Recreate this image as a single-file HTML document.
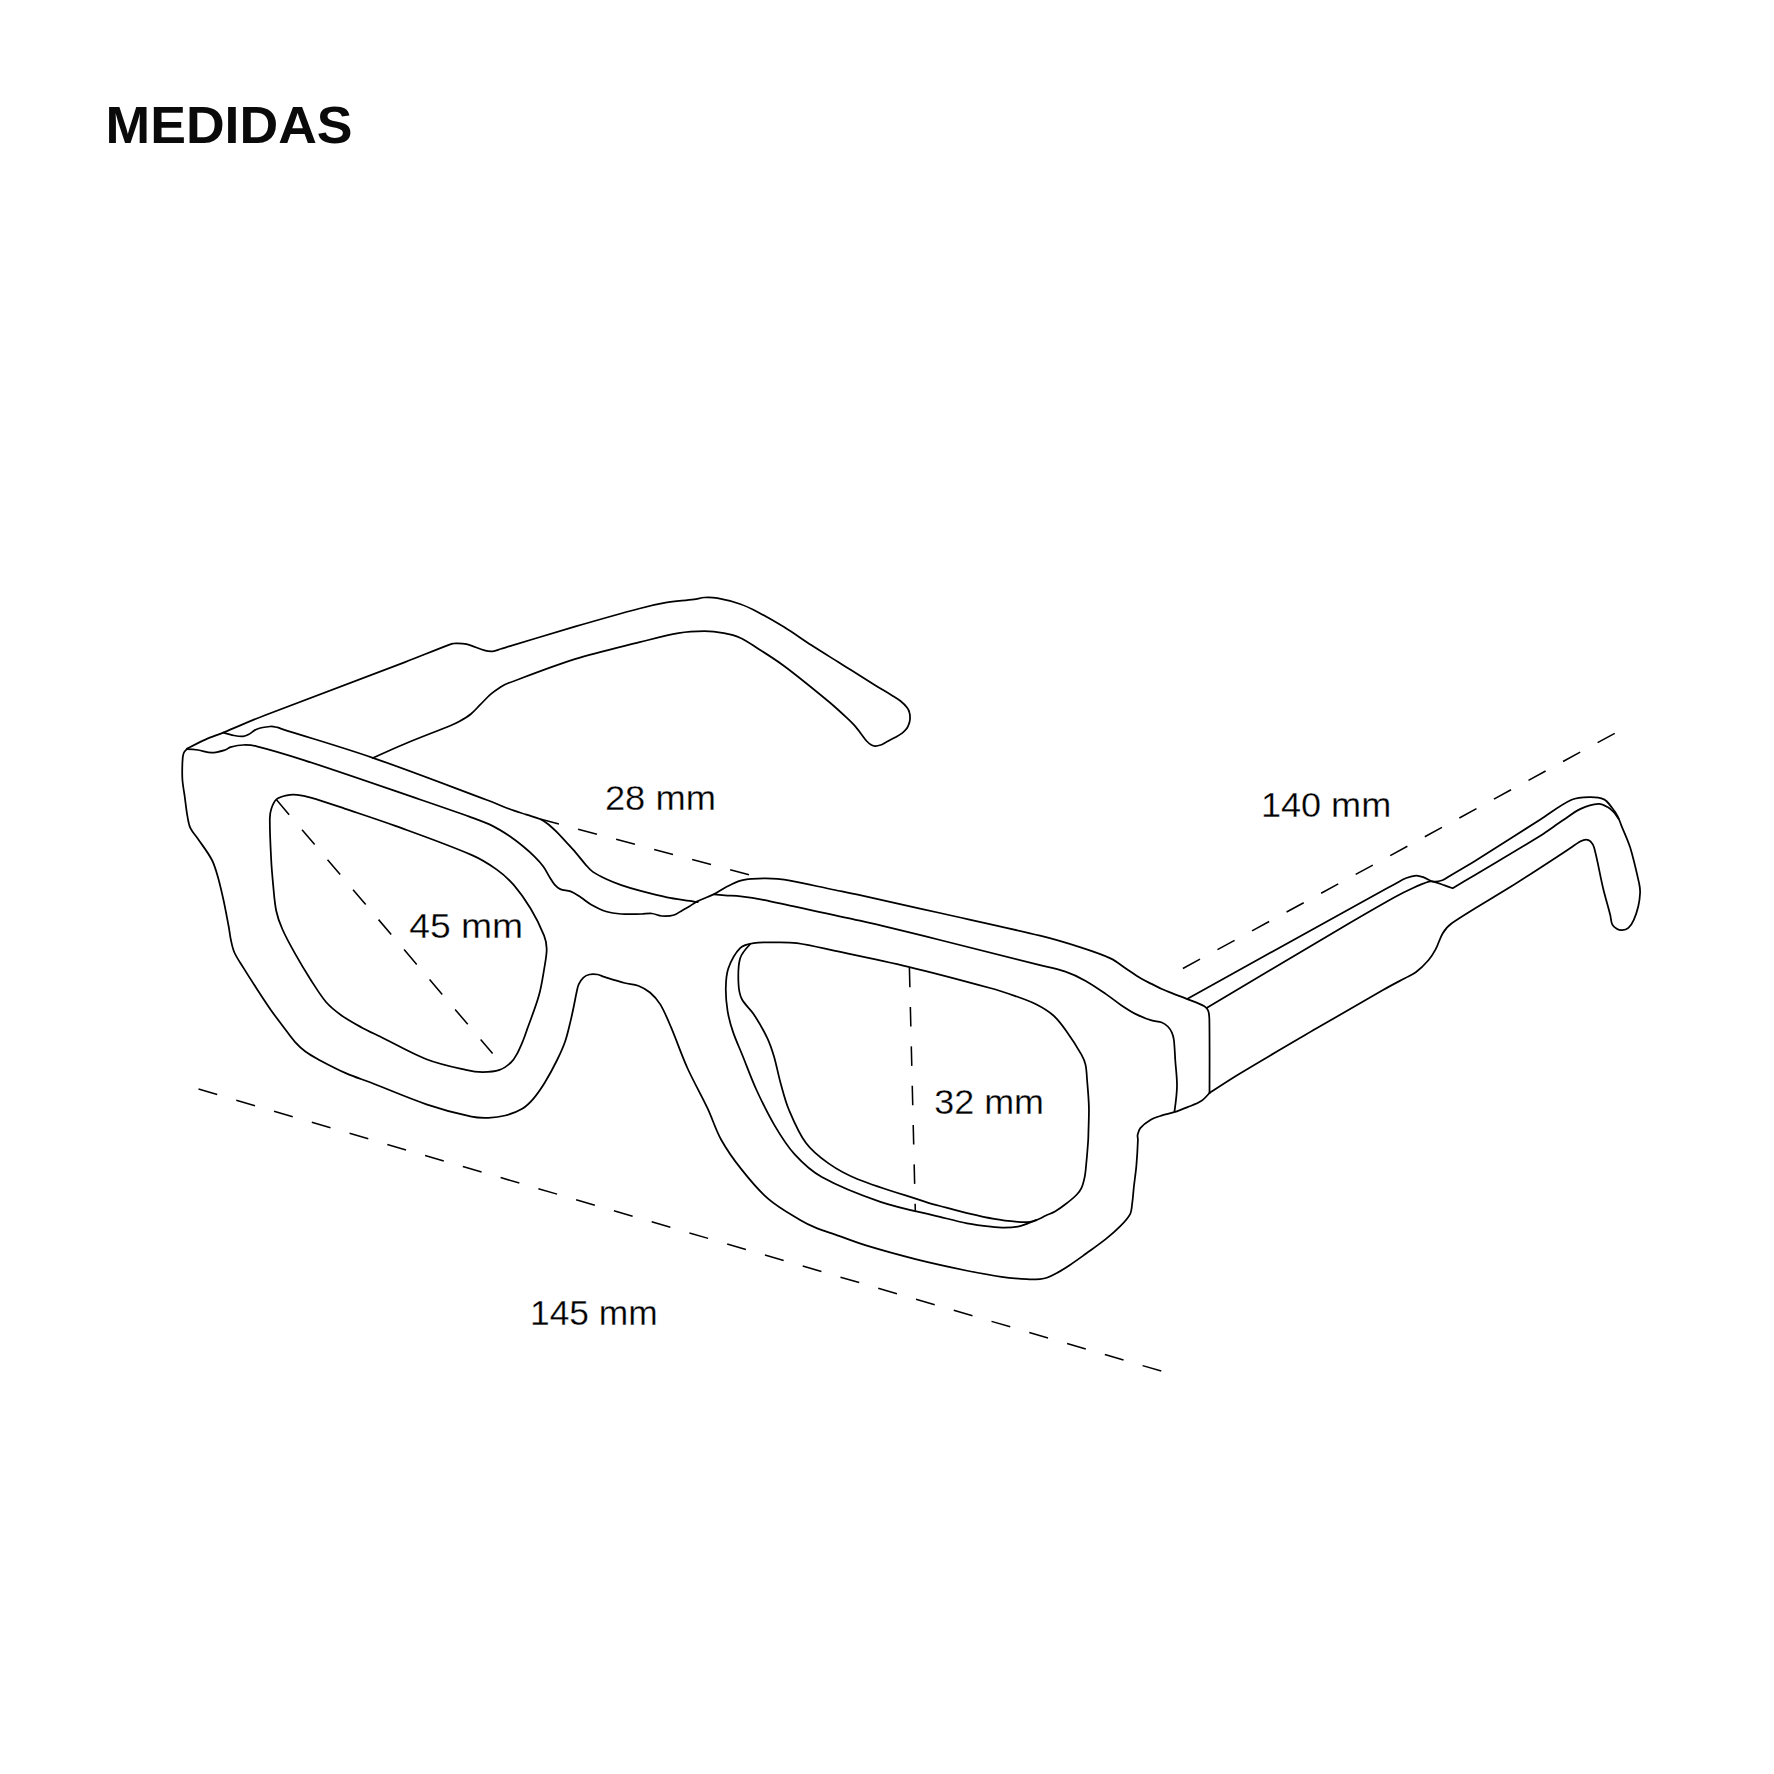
<!DOCTYPE html>
<html><head><meta charset="utf-8"><style>
html,body{margin:0;padding:0;background:#fff;}
body{width:1774px;height:1774px;overflow:hidden;}
svg{display:block;}
</style></head><body>
<svg width="1774" height="1774" viewBox="0 0 1774 1774">
<rect width="1774" height="1774" fill="#fff"/>
<text x="105.6" y="143.4" font-family="'Liberation Sans', sans-serif" font-weight="bold" font-size="51.5" textLength="247.0" lengthAdjust="spacingAndGlyphs" fill="#0a0a0a">MEDIDAS</text>
<g fill="none" stroke="#000" stroke-width="1.75" stroke-linecap="round" stroke-linejoin="round">
<path d="M187.2 748.6 C193.2 745.5 199.2 742.3 205.4 739.6 C211.3 737.0 217.4 735.0 223.3 732.6 C237.2 726.9 251.0 720.6 265.0 715.2 C311.6 697.1 358.5 679.9 405.1 662.1 C420.2 656.3 435.1 650.1 450.2 644.4 C451.6 643.9 453.2 643.4 454.7 643.4 C458.6 643.3 462.6 643.2 466.4 644.1 C472.6 645.5 478.4 648.7 484.5 650.4 C487.1 651.1 489.9 651.5 492.6 651.3 C495.3 651.1 498.0 649.8 500.7 649.0 C503.8 648.1 506.9 647.0 510.0 646.1 C531.6 639.6 553.1 633.0 574.8 626.7 C596.4 620.4 618.0 614.2 639.7 608.5 C648.3 606.2 656.9 604.2 665.6 602.7 C675.0 601.1 684.6 600.7 694.1 599.4 C697.6 598.9 701.0 597.7 704.5 597.5 C708.8 597.3 713.2 597.4 717.4 598.2 C725.0 599.6 732.7 601.5 740.0 604.0 C745.9 606.0 751.6 608.8 757.1 611.7 C766.3 616.5 775.3 621.7 784.1 627.1 C793.3 632.8 802.1 639.2 811.2 645.1 C820.1 650.9 829.2 656.4 838.2 662.0 C842.6 664.8 847.0 667.5 851.4 670.3 C859.3 675.3 867.2 680.3 875.1 685.2 C880.7 688.7 886.4 691.9 892.0 695.4 C894.9 697.2 897.9 698.9 900.5 701.0 C903.0 703.0 905.3 705.3 907.2 707.8 C908.3 709.2 909.1 711.0 909.5 712.8 C910.0 714.8 910.1 717.0 910.0 719.0 C909.9 720.7 909.5 722.5 908.9 724.1 C908.4 725.7 907.7 727.3 906.7 728.6 C905.5 730.3 903.9 731.8 902.2 733.1 C899.9 734.8 897.3 736.2 894.8 737.6 C893.0 738.6 891.1 739.5 889.2 740.5 C887.9 741.2 886.5 742.0 885.2 742.7 C883.7 743.5 882.3 744.5 880.7 745.0 C878.9 745.6 876.9 746.2 875.1 746.1 C873.6 746.0 872.0 745.2 870.6 744.4 C869.1 743.5 867.8 742.3 866.6 741.0 C864.6 738.7 862.9 736.1 861.0 733.7 C858.8 730.8 856.6 727.9 854.2 725.2 C851.9 722.6 849.4 720.2 846.9 717.9 C841.1 712.5 835.3 707.1 829.2 702.0 C814.4 689.8 799.5 677.5 784.1 666.0 C775.4 659.5 766.2 653.8 757.1 648.0 C751.5 644.4 746.0 640.4 740.0 637.7 C735.0 635.5 729.4 634.2 723.9 633.2 C717.5 632.0 711.0 631.2 704.5 631.2 C695.8 631.2 687.0 631.7 678.5 633.2 C665.4 635.4 652.6 639.0 639.7 642.2 C618.0 647.6 596.1 652.5 574.8 659.1 C552.2 666.2 530.1 675.0 507.9 683.3 C505.4 684.2 503.0 685.5 500.7 686.9 C497.3 689.1 493.9 691.4 490.8 694.1 C487.0 697.4 483.6 701.3 480.0 704.9 C477.0 707.9 474.2 711.3 470.9 714.0 C467.3 716.9 463.2 719.3 459.2 721.6 C456.3 723.2 453.3 724.5 450.2 725.7 C435.2 731.8 420.0 737.5 405.1 743.7 C394.2 748.2 383.5 753.1 372.8 758.0"/>
<path d="M223.3 732.6 C226.9 733.7 230.5 734.8 234.1 735.5 C237.1 736.1 240.2 736.6 243.1 736.4 C245.0 736.3 246.8 735.5 248.5 734.6 C251.4 733.1 253.7 730.3 256.7 729.2 C260.9 727.6 265.7 726.9 270.2 726.5 C272.6 726.3 275.0 726.9 277.4 727.4 C278.8 727.7 280.1 728.4 281.5 728.8 C311.9 738.5 342.6 747.3 372.8 757.8 C411.1 771.1 448.9 785.8 486.9 800.0 C494.5 802.8 501.9 806.2 509.5 809.0 C515.1 811.1 520.8 812.8 526.4 814.7 C531.1 816.2 536.0 817.2 540.5 819.2 C543.5 820.6 546.3 822.7 548.9 824.8 C551.9 827.2 554.7 830.0 557.4 832.7 C560.3 835.6 563.0 838.7 565.8 841.7 C569.1 845.3 572.5 848.9 575.7 852.6 C579.2 856.6 582.3 860.9 585.8 864.8 C588.0 867.3 590.2 870.0 592.9 871.9 C597.0 874.7 601.6 876.9 606.1 879.0 C611.0 881.3 616.1 883.3 621.3 885.1 C628.0 887.4 634.8 889.4 641.6 891.2 C650.0 893.4 658.5 895.6 667.0 897.3 C674.6 898.8 682.3 899.7 690.0 900.9 C692.6 901.3 695.2 901.8 697.8 902.2"/>
<path d="M186.8 749.2 C190.6 749.3 194.3 749.5 198.0 750.0 C202.6 750.6 207.1 752.7 211.6 752.7 C216.1 752.7 220.7 751.3 225.1 750.0 C227.0 749.4 228.6 747.7 230.5 747.2 C234.6 746.1 238.9 745.1 243.1 745.0 C247.6 744.8 252.3 745.2 256.7 746.3 C272.8 750.3 288.7 755.2 304.5 760.3 C343.2 772.9 381.5 786.3 420.0 799.5 C436.7 805.2 453.4 810.9 470.0 816.9 C477.6 819.7 485.3 822.4 492.5 825.9 C498.4 828.8 504.0 832.4 509.5 836.1 C514.4 839.4 519.0 843.1 523.6 846.8 C527.5 850.0 531.3 853.4 534.8 856.9 C537.8 859.9 540.8 863.1 543.3 866.5 C545.9 870.0 547.7 874.1 550.0 877.8 C551.4 880.1 552.8 882.6 554.6 884.6 C556.2 886.4 558.1 888.2 560.2 889.1 C563.4 890.5 567.3 890.1 570.6 891.4 C574.2 892.8 577.4 895.2 580.7 897.3 C584.2 899.5 587.3 902.4 590.9 904.4 C595.8 907.1 600.8 909.8 606.1 911.5 C611.0 913.0 616.2 913.6 621.3 914.0 C628.0 914.5 634.8 914.1 641.6 914.0 C645.0 913.9 648.4 913.2 651.8 913.5 C655.2 913.8 658.5 915.8 661.9 916.0 C665.9 916.3 670.3 916.1 674.1 915.0 C677.0 914.2 679.5 911.9 682.2 910.4 C684.8 908.9 687.4 907.5 690.0 906.0 C692.5 904.5 694.7 902.7 697.3 901.4 C702.8 898.7 708.7 896.8 714.2 894.1 C718.5 892.0 722.3 889.0 726.6 886.8 C731.2 884.5 735.8 882.1 740.7 880.6 C744.3 879.5 748.2 879.2 752.0 878.9 C756.7 878.5 761.4 878.3 766.1 878.3 C769.9 878.3 773.6 878.5 777.4 878.9 C781.6 879.3 785.8 879.8 790.0 880.6 C803.4 883.2 816.7 886.2 830.0 889.0 C840.0 891.1 850.0 893.0 860.0 895.2 C873.4 898.1 886.7 901.1 900.0 904.1 C913.3 907.1 926.7 910.0 940.0 913.0 C973.3 920.5 1006.8 927.6 1040.0 935.7 C1053.7 939.0 1067.2 943.1 1080.6 947.4 C1090.9 950.7 1101.3 954.1 1111.0 958.6 C1116.5 961.2 1121.1 965.3 1126.2 968.7 C1131.3 972.1 1136.3 975.7 1141.5 978.8 C1144.7 980.7 1148.2 982.2 1151.6 983.9 C1155.0 985.6 1158.3 987.4 1161.8 989.0 C1165.1 990.5 1168.5 991.8 1171.9 993.1 C1176.6 995.0 1181.4 996.7 1186.1 998.6 C1192.2 1001.1 1198.8 1003.0 1204.4 1006.2 C1206.2 1007.2 1207.8 1009.3 1208.4 1011.3 C1209.4 1014.4 1209.4 1018.1 1209.4 1021.5 C1209.7 1045.3 1209.6 1069.2 1209.5 1093.0"/>
<path d="M714.0 894.4 C717.7 894.7 721.3 895.0 725.0 895.3 C730.2 895.7 735.5 895.8 740.7 896.4 C748.3 897.3 755.8 898.4 763.3 899.8 C772.2 901.5 781.1 903.7 790.0 905.6 C813.3 910.6 836.7 915.4 860.0 920.7 C886.7 926.8 913.4 933.4 940.0 940.0 C973.4 948.2 1006.7 956.8 1040.0 965.2 C1048.5 967.3 1057.2 968.9 1065.4 971.7 C1072.4 974.1 1079.2 977.3 1085.7 980.9 C1092.7 984.8 1099.3 989.5 1106.0 994.1 C1111.2 997.6 1116.0 1001.7 1121.2 1005.2 C1126.1 1008.5 1131.1 1011.8 1136.4 1014.4 C1141.3 1016.8 1146.4 1018.8 1151.6 1020.4 C1154.9 1021.5 1158.6 1021.3 1161.8 1022.5 C1164.0 1023.3 1166.1 1024.8 1167.8 1026.5 C1169.5 1028.2 1170.9 1030.4 1171.9 1032.6 C1172.9 1034.9 1173.6 1037.5 1173.9 1040.0 C1174.7 1046.8 1174.8 1053.8 1175.3 1060.7 C1175.9 1069.1 1177.1 1077.6 1177.0 1086.0 C1176.9 1094.5 1175.7 1102.9 1174.5 1111.4"/>
<path d="M186.8 749.2 C185.4 750.5 184.0 751.8 183.5 753.5 C182.6 756.3 182.5 759.5 182.4 762.5 C182.2 768.2 182.0 773.9 182.4 779.5 C182.8 785.2 183.9 790.8 184.7 796.4 C185.6 803.2 186.3 810.0 187.5 816.7 C188.2 820.5 188.7 824.5 190.3 827.9 C192.2 832.0 195.6 835.4 198.2 839.2 C202.8 845.9 207.9 852.4 211.7 859.5 C214.3 864.4 215.8 869.9 217.4 875.3 C219.6 882.7 221.3 890.3 223.0 897.8 C225.1 907.2 226.8 916.6 228.6 926.0 C229.5 930.6 229.9 935.4 230.9 940.0 C231.8 944.2 232.6 948.6 234.4 952.5 C236.8 957.9 240.4 962.8 243.5 967.9 C247.6 974.6 251.8 981.1 256.1 987.7 C260.8 995.0 265.5 1002.3 270.5 1009.4 C274.5 1015.2 278.8 1020.8 283.1 1026.5 C287.0 1031.6 290.6 1037.0 294.9 1041.8 C298.2 1045.4 301.8 1048.9 305.7 1051.8 C309.9 1054.9 314.6 1057.4 319.2 1059.9 C328.1 1064.6 337.1 1069.3 346.3 1073.4 C354.0 1076.8 362.1 1079.3 370.0 1082.3 C388.8 1089.6 407.3 1097.8 426.4 1104.3 C441.1 1109.3 456.3 1113.4 471.5 1116.7 C477.0 1117.9 482.8 1118.0 488.4 1117.8 C494.1 1117.6 499.8 1117.0 505.3 1115.5 C511.1 1114.0 517.1 1111.9 522.2 1108.8 C526.5 1106.2 530.2 1102.4 533.5 1098.6 C537.7 1093.7 541.3 1088.3 544.7 1082.8 C549.2 1075.4 553.3 1067.8 557.1 1060.0 C560.1 1053.9 563.0 1047.6 565.2 1041.2 C567.5 1034.6 568.9 1027.7 570.6 1020.9 C571.6 1016.9 572.4 1012.8 573.3 1008.7 C574.5 1003.1 575.5 997.4 576.7 991.8 C577.3 989.3 577.6 986.7 578.7 984.4 C579.9 981.9 581.4 979.4 583.4 977.6 C585.0 976.1 587.3 975.0 589.5 974.5 C592.1 973.9 595.0 974.1 597.6 974.5 C599.9 974.9 602.1 976.2 604.4 976.9 C611.1 979.0 617.9 981.2 624.7 983.0 C629.1 984.2 634.0 984.1 638.2 985.7 C642.4 987.3 646.6 989.6 650.0 992.5 C653.9 995.8 657.6 1000.0 660.3 1004.4 C664.6 1011.6 667.8 1019.6 671.1 1027.4 C676.8 1040.8 681.4 1054.7 687.4 1068.0 C693.6 1081.8 701.3 1094.9 707.7 1108.6 C712.5 1118.8 715.7 1129.9 721.2 1139.7 C727.0 1150.1 734.0 1160.0 741.5 1169.4 C749.8 1179.9 758.5 1190.5 768.6 1199.2 C778.0 1207.4 789.3 1213.5 800.1 1220.0 C805.5 1223.3 811.3 1226.0 817.2 1228.4 C823.1 1230.8 829.3 1232.5 835.3 1234.6 C845.8 1238.3 856.2 1242.4 866.8 1245.7 C883.2 1250.7 899.8 1255.2 916.4 1259.4 C932.8 1263.5 949.4 1267.1 966.0 1270.5 C977.8 1272.9 989.6 1275.2 1001.5 1276.9 C1009.9 1278.1 1018.4 1278.7 1026.8 1279.2 C1031.2 1279.5 1035.6 1279.4 1040.0 1279.1 C1042.3 1278.9 1044.6 1278.6 1046.8 1277.8 C1050.3 1276.5 1053.6 1274.8 1056.9 1273.0 C1061.2 1270.6 1065.5 1268.0 1069.6 1265.2 C1075.3 1261.4 1080.9 1257.3 1086.5 1253.3 C1093.0 1248.6 1099.7 1243.9 1106.0 1238.9 C1111.0 1234.9 1115.9 1230.7 1120.3 1226.2 C1123.9 1222.6 1127.7 1218.8 1130.0 1214.4 C1131.7 1211.2 1131.7 1207.1 1132.2 1203.4 C1133.0 1197.8 1133.3 1192.1 1133.9 1186.5 C1134.7 1179.5 1135.8 1172.5 1136.4 1165.4 C1137.1 1157.0 1137.6 1148.5 1137.9 1140.0 C1138.0 1138.3 1137.3 1136.5 1137.6 1134.9 C1138.1 1132.6 1138.8 1129.9 1140.3 1128.1 C1143.0 1124.9 1146.7 1122.2 1150.4 1120.0 C1153.5 1118.1 1157.1 1117.0 1160.6 1115.9 C1165.0 1114.4 1169.7 1113.6 1174.1 1112.2 C1178.7 1110.7 1183.2 1108.9 1187.6 1107.1 C1192.2 1105.2 1197.1 1103.7 1201.2 1101.0 C1204.4 1099.0 1206.9 1096.0 1209.5 1093.0"/>
<path d="M276.4 799.3 C279.1 797.0 283.4 796.1 287.0 795.3 C290.3 794.6 293.8 794.6 297.2 794.9 C301.7 795.3 306.3 796.3 310.7 797.6 C322.1 800.9 333.3 804.8 344.6 808.6 C361.5 814.3 378.5 819.8 395.3 825.9 C420.8 835.2 446.5 844.2 471.4 854.9 C480.4 858.8 488.9 864.0 496.8 869.6 C503.0 874.0 508.7 879.2 513.7 884.9 C520.0 892.2 525.6 900.2 530.6 908.5 C535.8 917.1 540.4 926.3 544.1 935.6 C545.8 939.8 546.7 944.6 546.7 949.1 C546.7 955.8 545.2 962.7 544.1 969.4 C542.6 978.2 541.3 987.1 538.9 995.6 C535.7 1007.1 531.1 1018.1 527.1 1029.4 C525.9 1032.9 524.7 1036.5 523.3 1040.0 C521.2 1045.0 519.2 1050.0 516.6 1054.7 C515.1 1057.5 513.3 1060.4 510.9 1062.5 C507.6 1065.5 503.8 1068.5 499.6 1069.9 C494.4 1071.7 488.3 1072.1 482.7 1072.1 C477.1 1072.1 471.3 1071.2 465.8 1069.9 C452.6 1066.9 439.0 1064.1 426.4 1059.2 C410.4 1053.0 395.5 1044.1 380.0 1036.5 C373.8 1033.5 367.5 1030.7 361.5 1027.4 C354.6 1023.6 347.6 1019.8 341.2 1015.2 C335.8 1011.3 330.3 1007.0 326.0 1002.0 C320.2 995.2 315.6 987.3 310.7 979.7 C305.4 971.4 300.3 963.0 295.5 954.4 C290.8 946.1 286.1 937.7 282.3 929.0 C279.7 923.1 277.5 917.0 276.2 910.7 C274.5 902.4 274.0 893.8 273.2 885.4 C272.4 876.9 271.6 868.5 271.2 860.0 C270.5 846.1 269.7 832.2 269.8 818.4 C269.8 815.0 270.4 811.4 271.5 808.2 C272.6 805.0 274.0 801.3 276.4 799.3Z"/>
<path d="M753.7 943.2 C762.3 941.9 771.2 942.3 780.0 942.3 C785.6 942.3 791.3 942.4 796.9 943.2 C808.2 944.9 819.5 947.5 830.7 949.9 C856.7 955.4 882.7 960.6 908.5 966.8 C935.8 973.3 962.9 980.6 990.0 988.0 C998.6 990.3 1007.0 993.1 1015.4 996.1 C1022.5 998.6 1029.8 1001.1 1036.5 1004.5 C1042.5 1007.5 1048.4 1011.1 1053.4 1015.5 C1058.3 1019.8 1062.3 1025.3 1066.1 1030.7 C1071.6 1038.3 1076.7 1046.3 1081.3 1054.4 C1083.1 1057.6 1084.7 1061.0 1085.5 1064.6 C1086.7 1070.1 1086.7 1075.9 1087.2 1081.5 C1087.9 1089.9 1088.7 1098.4 1088.9 1106.8 C1089.1 1114.5 1088.7 1122.3 1088.5 1130.0 C1088.4 1133.3 1088.4 1136.7 1088.2 1140.0 C1087.7 1147.0 1087.2 1154.1 1086.5 1161.1 C1086.0 1166.2 1085.7 1171.4 1084.8 1176.4 C1084.0 1180.4 1083.1 1184.5 1081.4 1188.2 C1080.3 1190.7 1078.4 1193.0 1076.4 1195.0 C1073.0 1198.4 1069.2 1201.4 1065.4 1204.3 C1062.1 1206.9 1058.6 1209.4 1055.0 1211.5 C1052.2 1213.1 1049.0 1214.1 1046.0 1215.5 C1044.0 1216.4 1042.0 1217.6 1040.0 1218.5 C1038.3 1219.3 1036.5 1219.9 1034.7 1220.6 C1032.4 1221.5 1030.2 1222.5 1027.9 1223.3 C1024.6 1224.5 1021.3 1226.1 1017.8 1226.7 C1013.4 1227.5 1008.8 1227.7 1004.3 1227.7 C999.8 1227.7 995.2 1227.2 990.7 1226.7 C982.8 1225.8 974.9 1224.8 967.1 1223.3 C958.0 1221.5 949.0 1219.1 940.0 1216.9 C920.1 1212.0 899.8 1208.3 880.4 1201.8 C860.4 1195.0 840.2 1187.2 821.8 1177.0 C811.6 1171.4 802.6 1163.0 794.7 1154.4 C786.8 1145.7 780.4 1135.3 774.4 1125.1 C767.7 1113.8 762.0 1101.9 756.5 1090.0 C751.2 1078.4 746.9 1066.3 742.1 1054.5 C739.1 1047.0 735.6 1039.6 733.0 1031.9 C730.7 1025.2 728.8 1018.2 727.6 1011.2 C726.4 1003.8 725.7 996.1 725.8 988.6 C725.9 981.9 726.1 974.7 728.3 968.5 C730.9 961.3 734.9 953.4 740.1 948.2 C743.3 945.0 749.0 943.9 753.7 943.2Z"/>
<path d="M750.3 944.0 C746.0 948.5 741.7 953.0 740.1 958.4 C737.8 966.2 738.1 975.4 738.5 983.8 C738.7 988.9 739.5 994.5 741.8 999.0 C744.6 1004.6 750.2 1008.8 753.7 1014.2 C758.7 1021.8 763.3 1029.7 767.2 1037.9 C770.0 1043.8 772.1 1050.2 774.0 1056.5 C776.6 1065.4 778.2 1074.6 780.7 1083.5 C783.2 1092.4 785.4 1101.5 789.0 1110.0 C793.8 1121.4 798.7 1133.3 806.0 1143.1 C811.9 1151.1 820.3 1157.7 828.5 1163.4 C837.5 1169.7 847.5 1175.1 857.8 1179.2 C879.8 1187.9 902.9 1194.4 925.5 1201.8 C930.3 1203.4 935.1 1204.7 940.0 1206.0 C949.0 1208.4 958.0 1210.9 967.1 1213.1 C976.1 1215.2 985.0 1217.3 994.1 1218.9 C1001.9 1220.3 1009.9 1221.2 1017.8 1221.9 C1021.8 1222.2 1026.0 1222.3 1030.0 1221.9 C1032.2 1221.7 1034.4 1220.9 1036.5 1220.2"/>
<path d="M1187.1 998.9 C1238.1 970.7 1289.0 942.4 1340.0 914.2 C1358.3 904.1 1376.6 893.9 1395.0 883.9 C1398.7 881.9 1402.4 879.5 1406.3 878.0 C1409.4 876.8 1412.9 875.7 1416.2 875.6 C1418.9 875.5 1421.7 876.7 1424.3 877.6 C1427.4 878.7 1430.2 881.1 1433.3 881.6 C1436.2 882.0 1439.6 881.3 1442.4 880.3 C1445.6 879.1 1448.4 876.7 1451.4 874.9 C1459.3 870.2 1467.2 865.7 1475.0 860.9 C1496.8 847.3 1518.3 833.4 1540.0 819.7 C1550.5 813.0 1560.5 804.9 1571.6 799.8 C1577.0 797.3 1583.6 797.2 1589.6 797.1 C1594.4 797.0 1599.8 797.4 1604.0 799.4 C1607.4 801.0 1609.7 804.9 1612.2 808.0 C1614.2 810.5 1616.1 813.2 1617.6 816.1 C1619.1 818.9 1620.0 822.1 1621.2 825.1 C1624.2 832.6 1627.8 839.9 1630.2 847.6 C1633.8 859.4 1636.5 871.6 1639.2 883.7 C1639.8 886.6 1640.2 889.7 1640.1 892.7 C1639.9 897.2 1639.3 901.9 1638.3 906.3 C1637.2 910.9 1635.8 915.5 1633.8 919.8 C1632.5 922.7 1630.7 925.8 1628.4 927.9 C1626.8 929.3 1624.2 930.0 1622.1 930.2 C1620.3 930.3 1618.2 929.7 1616.7 928.8 C1614.9 927.8 1613.1 926.1 1612.2 924.3 C1610.9 921.6 1611.0 918.3 1610.3 915.3 C1608.0 906.2 1605.3 897.3 1603.1 888.2 C1599.9 874.7 1597.7 860.9 1594.1 847.6 C1593.5 845.3 1592.1 842.9 1590.5 841.3 C1589.4 840.2 1587.5 839.5 1586.0 839.5 C1584.2 839.5 1582.2 840.4 1580.6 841.3 C1575.9 844.0 1571.6 847.3 1567.1 850.3 C1558.1 856.2 1549.0 862.1 1540.0 867.9 C1530.5 874.1 1521.0 880.3 1511.4 886.3 C1491.6 898.7 1471.0 910.1 1451.8 923.2 C1448.1 925.7 1445.1 929.4 1442.8 933.2 C1439.7 938.2 1438.4 944.2 1435.6 949.4 C1433.6 953.2 1431.2 956.9 1428.4 960.2 C1424.6 964.6 1420.4 968.8 1415.8 972.3 C1412.5 974.8 1408.5 976.2 1404.9 978.2 C1397.6 982.1 1390.2 985.9 1383.0 990.0 C1360.3 1002.9 1337.8 1016.0 1315.3 1029.1 C1290.1 1043.8 1264.9 1058.4 1240.0 1073.5 C1229.7 1079.7 1219.6 1086.4 1209.5 1093.0"/>
<path d="M1207.4 1007.4 C1251.6 981.1 1295.7 954.8 1340.0 928.7 C1358.2 918.0 1376.5 907.3 1395.0 897.0 C1400.9 893.7 1406.9 890.8 1413.0 888.0 C1418.2 885.6 1423.4 883.3 1428.8 881.6 C1430.2 881.2 1431.9 881.3 1433.3 881.6 C1437.1 882.5 1440.8 884.0 1444.6 885.3 C1447.3 886.2 1450.0 887.2 1452.7 888.2 C1460.1 883.8 1467.6 879.3 1475.0 874.9 C1496.7 861.9 1518.5 849.2 1540.0 835.9 C1547.7 831.1 1554.9 825.6 1562.5 820.6 C1568.5 816.6 1574.2 811.9 1580.6 808.9 C1586.2 806.3 1592.6 804.3 1598.6 803.9 C1601.6 803.7 1604.9 805.6 1607.6 807.1 C1610.0 808.4 1612.1 810.5 1614.0 812.5 C1615.7 814.4 1617.1 816.6 1618.5 818.8"/>
</g>
<g fill="none" stroke="#000" stroke-width="1.55" stroke-dasharray="19.5 19.85" stroke-linecap="butt">
<path d="M540.1 819.0L750.3 875.1"/>
<path d="M276.5 799.8L492.6 1053.5"/>
<path d="M909.4 967.7L915.3 1210.8"/>
<path d="M1182.9 968.5L1614.8 733.3"/>
<path d="M198.5 1089.1L1161.3 1371.1"/>
</g>
<g font-family="'Liberation Sans', sans-serif" fill="#000" stroke="#fff" stroke-width="0.3">
<text x="604.9" y="809.8" font-size="34.5" textLength="111.0" lengthAdjust="spacingAndGlyphs">28 mm</text>
<text x="1260.9" y="817.1" font-size="34.5" textLength="130.3" lengthAdjust="spacingAndGlyphs">140 mm</text>
<text x="409.2" y="937.6" font-size="34.5" textLength="114.0" lengthAdjust="spacingAndGlyphs">45 mm</text>
<text x="530.0" y="1324.7" font-size="34.5" textLength="127.7" lengthAdjust="spacingAndGlyphs">145 mm</text>
<text x="934.2" y="1114.1" font-size="34.5" textLength="109.8" lengthAdjust="spacingAndGlyphs">32 mm</text>
</g>
</svg>
</body></html>
